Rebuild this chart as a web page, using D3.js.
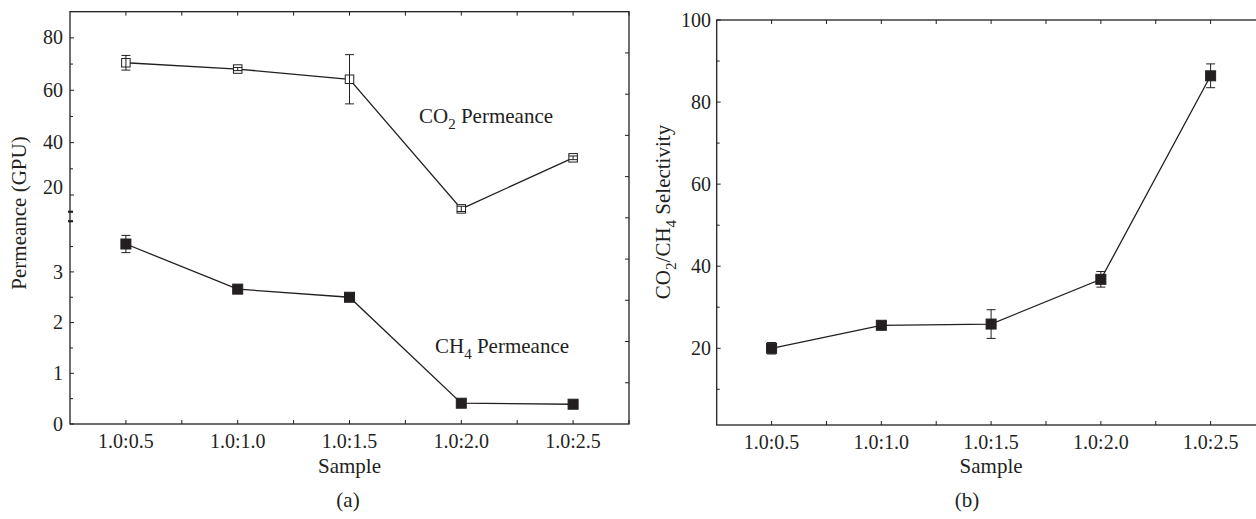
<!DOCTYPE html>
<html>
<head>
<meta charset="utf-8">
<script src="https://cdn.jsdelivr.net/npm/d3@7/dist/d3.min.js"></script>
<style>
  body { margin: 0; background: #fff; }
  svg { display: block; font-family: "Liberation Serif", "Times New Roman", serif; }
  .lbl { font-size: 20px; fill: #231f20; }
  .title { font-size: 21px; fill: #231f20; }
</style>
</head>
<body>
<svg id="chart" width="1256" height="519"></svg>
<script>
// ---- Data ----
const samples = ["1.0:0.5", "1.0:1.0", "1.0:1.5", "1.0:2.0", "1.0:2.5"];

// panel (a): permeance (GPU)
const co2Perm = [70.5, 68.1, 64.2, 14.7, 34.2];
const co2PermErr = [2.8, 0.6, 9.4, 1.0, 0.7];
const ch4Perm = [3.55, 2.66, 2.50, 0.41, 0.39];
const ch4PermErr = [0.17, 0.05, 0.04, 0.04, 0.03];

// panel (b): CO2/CH4 selectivity
const selectivity = [20.0, 25.6, 25.9, 36.8, 86.4];
const selectivityErr = [1.4, 0.5, 3.5, 1.9, 2.9];

// tick values
const aMajorTicks = [0, 1, 2, 3, 20, 40, 60, 80];
const aMinorTicks = [0.5, 1.5, 2.5, 3.5, 30, 50, 70];
const bMajorTicks = [20, 40, 60, 80, 100];
const bMinorTicks = [10, 30, 50, 70, 90];

const ink = "#231f20";
const svg = d3.select("#chart");

// ---- helpers ----
function frame(g, x, y) {
    const [x0, x1] = x.range();
    const [y0, y1] = [y.range()[0], y.range()[y.range().length - 1]];
    g.append("rect")
        .attr("x", x0).attr("y", y1)
        .attr("width", x1 - x0).attr("height", y0 - y1)
        .attr("fill", "none").attr("stroke", ink).attr("stroke-width", 1.3);
}

function xTicks(g, x, y) {
    const y0 = y.range()[0];
    const y1 = y.range()[y.range().length - 1];
    const halfSteps = d3.range(0, 4.51, 0.5);
    // bottom, pointing in
    g.selectAll(".xb").data(halfSteps).join("line")
        .attr("class", "xb")
        .attr("x1", d => x(d)).attr("x2", d => x(d))
        .attr("y1", y0).attr("y2", y0 - 4)
        .attr("stroke", ink).attr("stroke-width", 1);
    // top, pointing in
    g.selectAll(".xt").data(halfSteps).join("line")
        .attr("class", "xt")
        .attr("x1", d => x(d)).attr("x2", d => x(d))
        .attr("y1", y1).attr("y2", y1 + 4)
        .attr("stroke", ink).attr("stroke-width", 1);
    g.selectAll(".xl").data(samples).join("text")
        .attr("class", "lbl xl")
        .attr("x", (d, i) => x(i))
        .attr("y", y0 + 24)
        .attr("text-anchor", "middle")
        .text(d => d);
}

function yTicks(g, x, y, values, len) {
    const x0 = x.range()[0];
    g.append("g").selectAll("line").data(values).join("line")
        .attr("x1", x0).attr("x2", x0 + len)
        .attr("y1", d => y(d)).attr("y2", d => y(d))
        .attr("stroke", ink).attr("stroke-width", 1);
}

function errorBars(g, x, y, vals, errs, cap) {
    const eb = g.append("g").attr("stroke", ink).attr("stroke-width", 1);
    vals.forEach((v, i) => {
        const cx = x(i), top = y(v + errs[i]), bot = y(v - errs[i]);
        eb.append("line").attr("x1", cx).attr("x2", cx).attr("y1", top).attr("y2", bot);
        eb.append("line").attr("x1", cx - cap / 2).attr("x2", cx + cap / 2).attr("y1", top).attr("y2", top);
        eb.append("line").attr("x1", cx - cap / 2).attr("x2", cx + cap / 2).attr("y1", bot).attr("y2", bot);
    });
}

function series(g, x, y, vals) {
    const line = d3.line().x((d, i) => x(i)).y(d => y(d));
    g.append("path")
        .datum(vals)
        .attr("d", line)
        .attr("fill", "none")
        .attr("stroke", ink)
        .attr("stroke-width", 1.3);
}

function squares(g, x, y, vals, size, fill) {
    g.append("g").selectAll("rect").data(vals).join("rect")
        .attr("x", (d, i) => x(i) - size / 2)
        .attr("y", d => y(d) - size / 2)
        .attr("width", size).attr("height", size)
        .attr("fill", fill)
        .attr("stroke", ink)
        .attr("stroke-width", 1);
}

function subLabel(g, parts, attrs) {
    // parts: [text, isSubscript]
    const t = g.append("text").attr("class", "title");
    Object.entries(attrs).forEach(([k, v]) => t.attr(k, v));
    let shifted = false;
    parts.forEach(([txt, sub]) => {
        const s = t.append("tspan").text(txt);
        if (sub && !shifted) { s.attr("dy", 6).attr("font-size", 15); shifted = true; }
        else if (!sub && shifted) { s.attr("dy", -6); shifted = false; }
    });
    return t;
}

// ---- Panel (a) ----
const xa = d3.scaleLinear().domain([-0.5, 4.5]).range([70, 629]);
// broken axis: 0-4 below the break, 10-90 above it
const ya = d3.scaleLinear().domain([0, 4, 10, 90]).range([424, 221.2, 221.2, 11.7]);
// unlabeled right-hand axis ticks
const yaRight = d3.scaleLinear().domain([0, 10]).range([424, 11.7]);

const ga = svg.append("g");
frame(ga, xa, ya);
xTicks(ga, xa, ya);
yTicks(ga, xa, ya, aMajorTicks, 4);
yTicks(ga, xa, ya, aMinorTicks, 3);
ga.append("g").selectAll("line").data(d3.range(1, 10)).join("line")
    .attr("x1", 629).attr("x2", 625)
    .attr("y1", d => yaRight(d)).attr("y2", d => yaRight(d))
    .attr("stroke", ink).attr("stroke-width", 1);

// axis break marks
ga.append("g").selectAll("line").data([13.6, 4]).join("line")
    .attr("x1", xa.range()[0] - 2).attr("x2", xa.range()[0] + 3)
    .attr("y1", d => ya(d)).attr("y2", d => ya(d))
    .attr("stroke", ink).attr("stroke-width", 2.2);

ga.selectAll(".yl").data(aMajorTicks).join("text")
    .attr("class", "lbl yl")
    .attr("x", 63)
    .attr("y", d => ya(d) + (d === 20 ? -8 : 0))
    .attr("dy", "0.33em")
    .attr("text-anchor", "end")
    .text(d => d);

series(ga, xa, ya, co2Perm);
series(ga, xa, ya, ch4Perm);
errorBars(ga, xa, ya, ch4Perm, ch4PermErr, 9);
squares(ga, xa, ya, ch4Perm, 10, ink);
squares(ga, xa, ya, co2Perm, 8.5, "#fff");
errorBars(ga, xa, ya, co2Perm, co2PermErr, 9);

subLabel(ga, [["CO", false], ["2", true], [" Permeance", false]], { x: 419, y: 123 });
subLabel(ga, [["CH", false], ["4", true], [" Permeance", false]], { x: 435, y: 353 });

ga.append("text").attr("class", "title")
    .attr("transform", "translate(26,213) rotate(-90)")
    .attr("text-anchor", "middle")
    .text("Permeance (GPU)");

ga.append("text").attr("class", "title")
    .attr("x", xa(2)).attr("y", 473)
    .attr("text-anchor", "middle").text("Sample");
ga.append("text").attr("class", "title")
    .attr("x", 348).attr("y", 507)
    .attr("text-anchor", "middle").text("(a)");

// ---- Panel (b) ----
const xb = d3.scaleLinear().domain([-0.5, 4.5]).range([716.7, 1265.5]);
const yb = d3.scaleLinear().domain([1.3, 100]).range([425, 20]);

const gb = svg.append("g");
frame(gb, xb, yb);
xTicks(gb, xb, yb);
yTicks(gb, xb, yb, bMajorTicks, 4);
yTicks(gb, xb, yb, bMinorTicks, 3);

gb.selectAll(".yl").data(bMajorTicks).join("text")
    .attr("class", "lbl yl")
    .attr("x", 711)
    .attr("y", d => yb(d))
    .attr("dy", "0.33em")
    .attr("text-anchor", "end")
    .text(d => d);

series(gb, xb, yb, selectivity);
errorBars(gb, xb, yb, selectivity, selectivityErr, 9);
squares(gb, xb, yb, selectivity, 10, ink);

subLabel(gb,
    [["CO", false], ["2", true], ["/CH", false], ["4", true], [" Selectivity", false]],
    { transform: "translate(670,212) rotate(-90)", "text-anchor": "middle" });

gb.append("text").attr("class", "title")
    .attr("x", xb(2)).attr("y", 473)
    .attr("text-anchor", "middle").text("Sample");
gb.append("text").attr("class", "title")
    .attr("x", 967).attr("y", 507)
    .attr("text-anchor", "middle").text("(b)");
</script>
</body>
</html>
